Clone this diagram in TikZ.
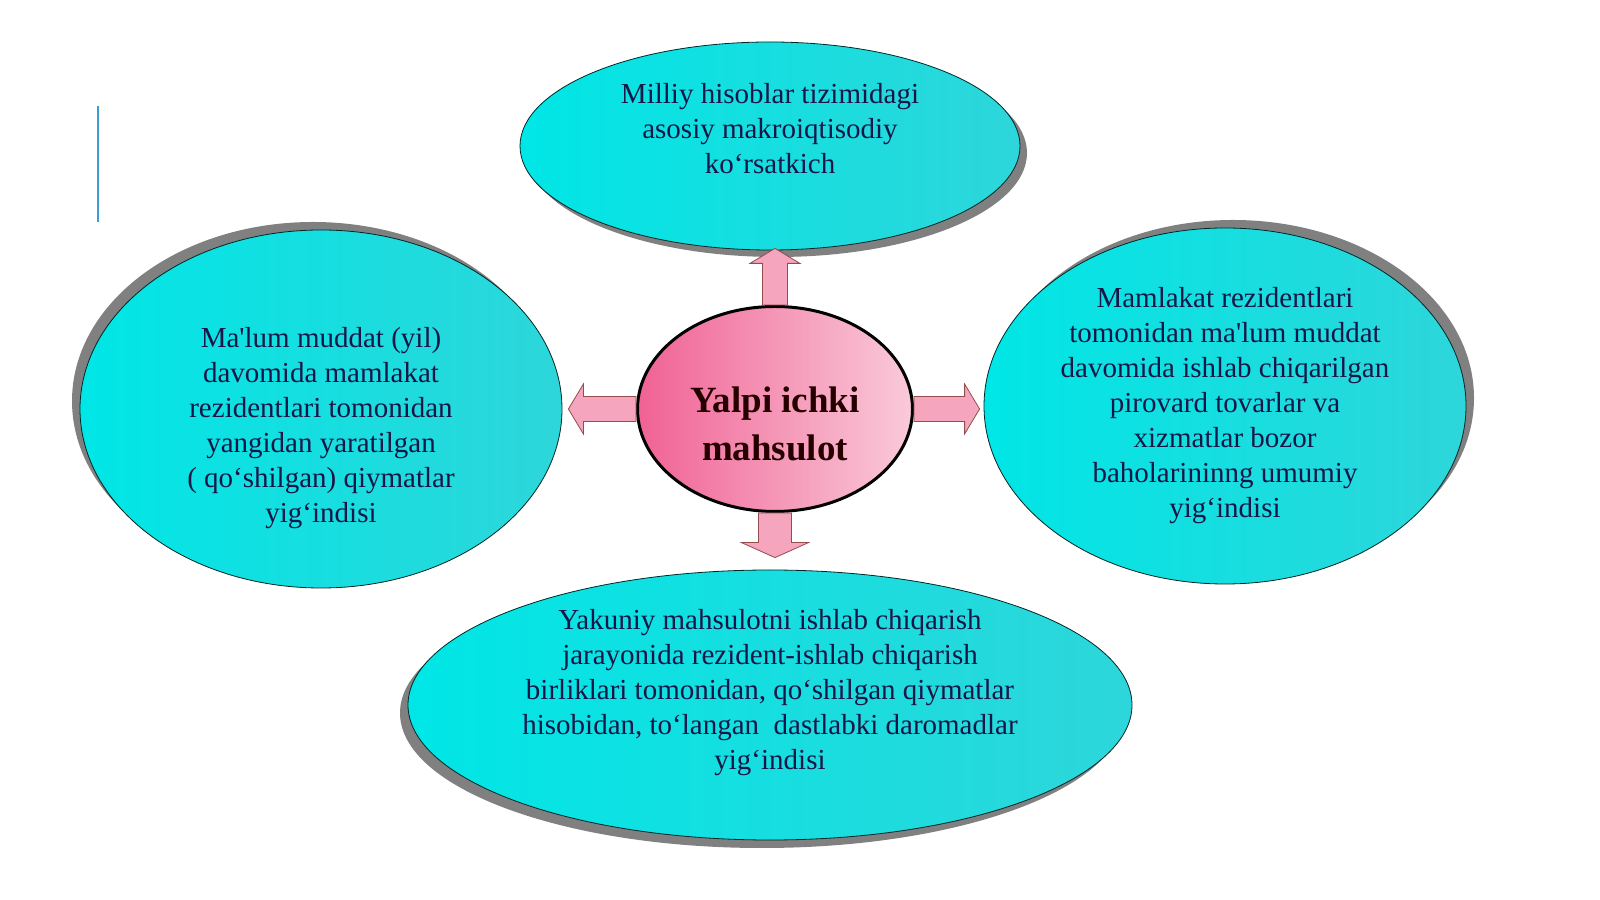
\documentclass[tikz,border=0pt]{standalone}
\usepackage{fontspec}
\setmainfont{Liberation Serif}
\usetikzlibrary{shapes.geometric,shadows,calc}
\definecolor{navytext}{RGB}{22,22,72}
\definecolor{cyanA}{RGB}{0,230,230}
\definecolor{cyanB}{RGB}{45,214,218}
\definecolor{pinkA}{RGB}{240,98,148}
\definecolor{pinkB}{RGB}{250,202,218}
\definecolor{arrowpink}{RGB}{245,165,190}
\definecolor{slideblue}{RGB}{61,155,214}
% shaft half width, head half width, from, to
\newcommand\fatarrow[4]{%
  \coordinate (hb) at ($(#4)!15pt!(#3)$);
  \draw[arrowbody] ($(#3)!#1!90:(#4)$) -- ($(hb)!#1!90:(#4)$) -- ($(hb)!#2!90:(#4)$) -- (#4)
    -- ($(hb)!#2!-90:(#4)$) -- ($(hb)!#1!-90:(#4)$) -- ($(#3)!#1!-90:(#4)$) -- cycle;}

\begin{document}
\begin{tikzpicture}[x=1pt,y=1pt,
  bubble/.style={ellipse,draw=teal!30!black,line width=0.8pt,left color=cyanA,right color=cyanB,inner sep=0pt},
  dropsh/.style 2 args={drop shadow={shadow xshift=#1,shadow yshift=#2,fill=black!50,opacity=1}},
  txt/.style={font=\fontsize{29}{35}\selectfont,text=navytext,align=center},
  gdp/.style={ellipse,draw=black,line width=3pt,left color=pinkA,right color=pinkB,inner sep=0pt},
  arrowbody/.style={fill=arrowpink,draw=black!60!red!70,line width=0.8pt}]
\useasboundingbox (0,0) rectangle (1600,899);
\draw[slideblue,line width=2.5pt] (98,793) -- (98,677);

\node[bubble,dropsh={7pt}{-7pt},minimum width=500pt,minimum height=208pt] (top) at (770,753) {};
\node[bubble,dropsh={-8pt}{8pt},minimum width=482pt,minimum height=358pt] (left) at (321,490) {};
\node[bubble,dropsh={8pt}{8pt},minimum width=482pt,minimum height=356pt] (right) at (1225,493) {};
\node[bubble,dropsh={-8pt}{-8pt},minimum width=724pt,minimum height=270pt] (bottom) at (770,194) {};
\node[gdp,minimum width=275pt,minimum height=205pt] (c) at (775,490) {};

\node[txt] (toptxt) at ($(top)+(0,17)$) {Milliy hisoblar tizimidagi\\asosiy makroiqtisodiy\\ko‘rsatkich};
\node[txt] (lefttxt) at ($(left)+(0,-19)$) {Ma\textquotesingle lum muddat (yil)\\davomida mamlakat\\rezidentlari tomonidan\\yangidan yaratilgan\\( qo‘shilgan) qiymatlar\\yig‘indisi};
\node[txt] (righttxt) at ($(right)+(0,0)$) {Mamlakat rezidentlari\\tomonidan ma\textquotesingle lum muddat\\davomida ishlab chiqarilgan\\pirovard tovarlar va\\xizmatlar bozor\\baholarininng umumiy\\yig‘indisi};
\node[txt] (bottomtxt) at ($(bottom)+(0,12)$) {Yakuniy mahsulotni ishlab chiqarish\\jarayonida rezident-ishlab chiqarish\\birliklari tomonidan, qo‘shilgan qiymatlar\\hisobidan, to‘langan\ \ dastlabki daromadlar\\yig‘indisi};
\node[font=\bfseries\fontsize{37}{48}\selectfont,text=black!85!red,align=center] (ctxt) at ($(c)+(0,-15)$) {Yalpi ichki\\mahsulot};

\coordinate (upend) at ($(c.north |- top.south)+(0,2)$);
\coordinate (leftend) at ($(c.west -| left.east)+(6,0)$);
\coordinate (rightend) at ($(c.east -| right.west)+(-4,0)$);
\coordinate (downend) at ($(c.south |- bottom.north)+(0,12)$);
\fatarrow{12.5pt}{25pt}{c.north}{upend}
\fatarrow{12.5pt}{25pt}{c.west}{leftend}
\fatarrow{12.5pt}{25pt}{c.east}{rightend}
\fatarrow{16.5pt}{33.5pt}{c.south}{downend}
\end{tikzpicture}
\end{document}
